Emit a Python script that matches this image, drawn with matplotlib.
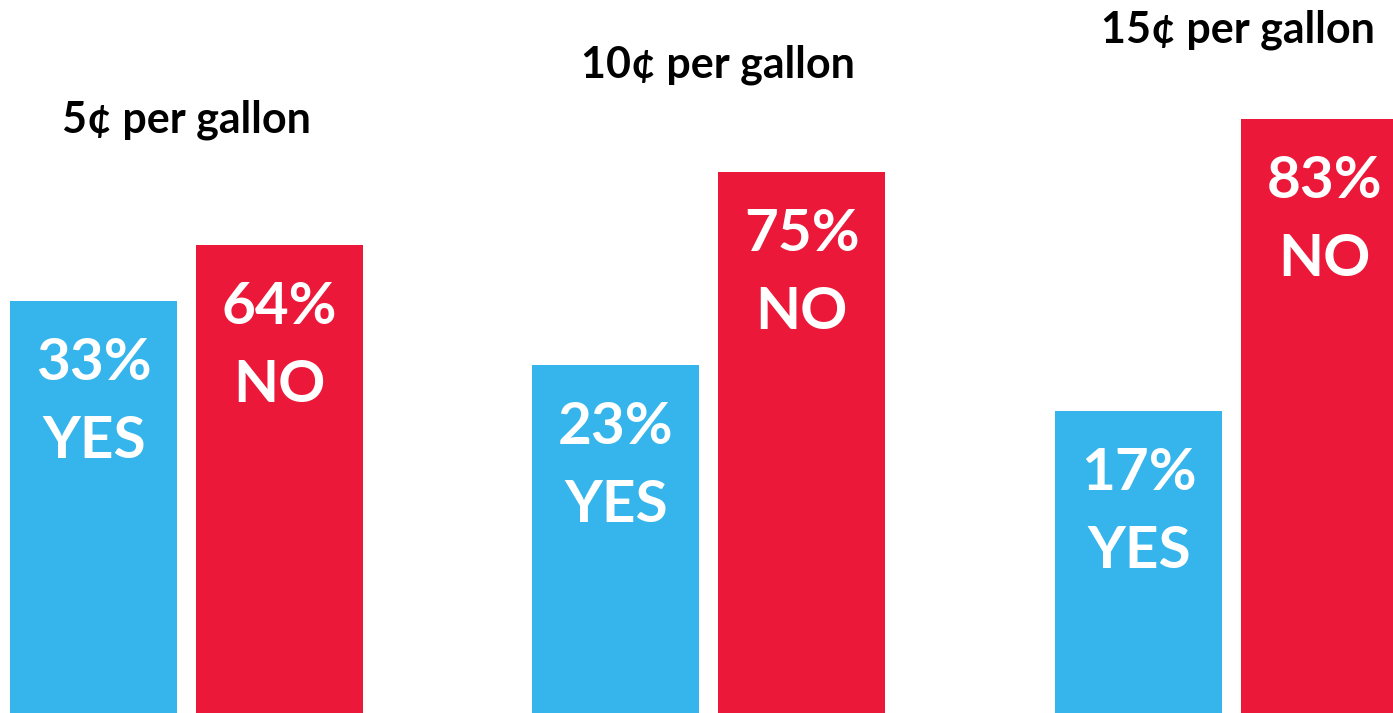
import matplotlib
matplotlib.use("Agg")
import matplotlib.pyplot as plt

# survey: would you support a gas tax of ...
groups = ['5¢ per gallon', '10¢ per gallon', '15¢ per gallon']
yes_pct = [33, 23, 17]
no_pct = [64, 75, 83]
answer_labels = ['YES', 'NO']

BLUE = '#36B5EC'
RED = '#EC1839'
W, H = 1393, 713

plt.rcParams['font.family'] = ['Lato', 'DejaVu Sans']

fig = plt.figure(figsize=(W / 100, H / 100), dpi=100)

# each group is drawn on its own axes, with its own scale (as in the original)
ax_left = [10, 532, 1055]          # px
ylims = [(-195.1, 199.6), (-70.8, 121.3), (-51.3, 109.9)]
title_xy = [(186, 120), (718, 65), (1238, 30)]   # px from top-left
ax_w = 353.4

for i in range(3):
    ax = fig.add_axes([ax_left[i] / W, 0, ax_w / W, 1])
    lo, hi = ylims[i]
    vals = [yes_pct[i], no_pct[i]]
    colors = [BLUE, RED]
    for j in range(2):
        ax.bar(j, vals[j] - lo, bottom=lo, width=0.9, color=colors[j])
        ax.annotate(f'{vals[j]}%', (j, vals[j]), xytext=(0, -45),
                    textcoords='offset points', ha='center', va='center',
                    color='white', fontsize=42, fontweight='bold')
        ax.annotate(answer_labels[j], (j, vals[j]), xytext=(0, -101),
                    textcoords='offset points', ha='center', va='center',
                    color='white', fontsize=42, fontweight='bold')
    ax.set_xlim(-0.45, 1.45)
    ax.set_ylim(lo, hi)
    ax.axis('off')
    tx, ty = title_xy[i]
    fig.text(tx / W, 1 - ty / H, groups[i], ha='center', va='center',
             fontsize=31, fontweight='bold', color='black')

fig.savefig('out.png', dpi=100)
